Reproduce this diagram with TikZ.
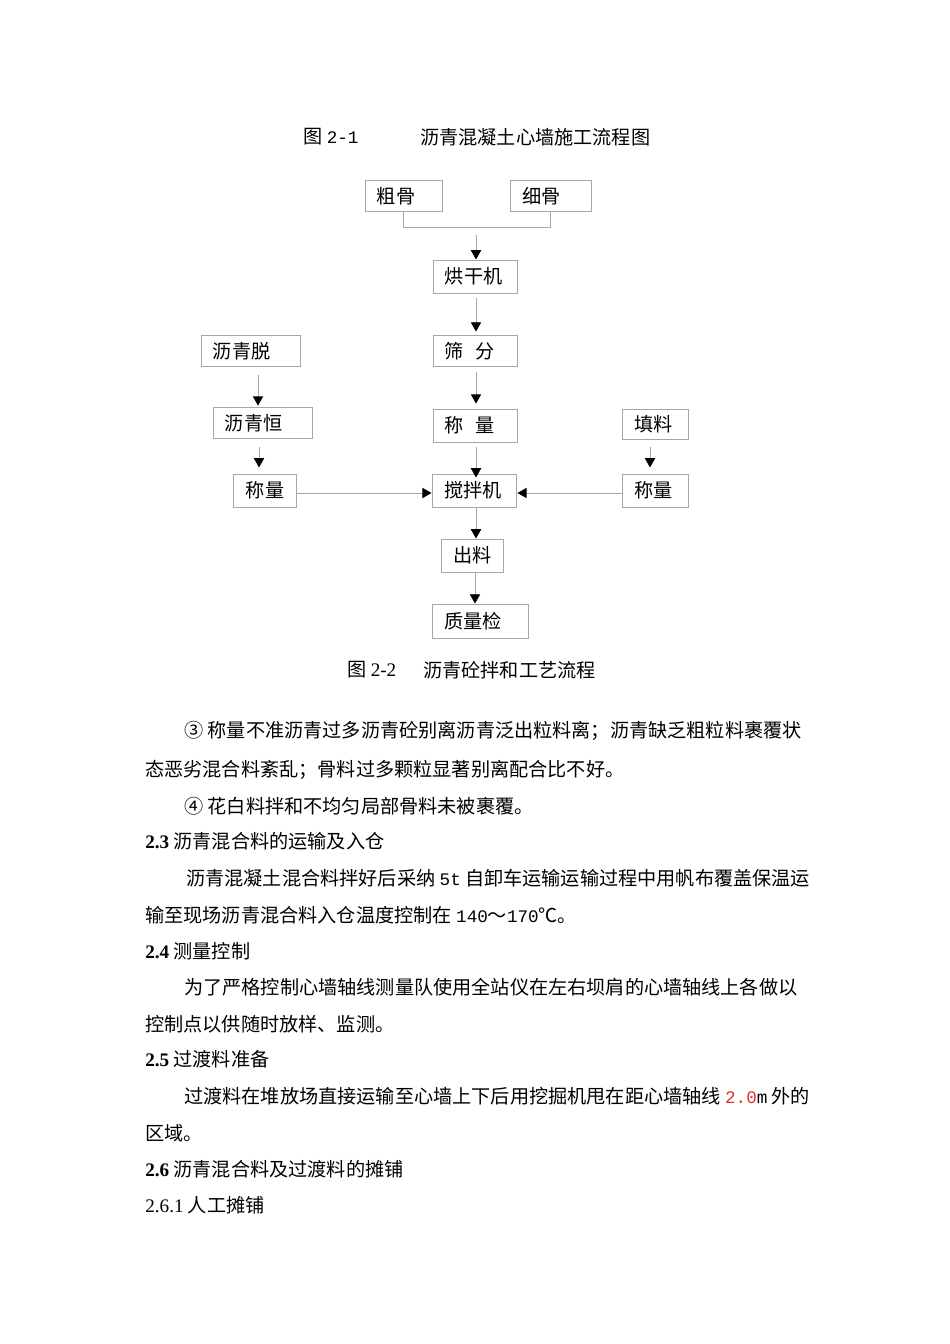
\documentclass[tikz,border=0pt]{standalone}
\usepackage{fontspec}
\setmainfont{Liberation Serif}
\newfontfamily\cjk{Noto Sans CJK SC}
\newfontfamily\latmono[Scale=0.92]{Liberation Mono}
\usetikzlibrary{arrows.meta}
\definecolor{linegray}{HTML}{A6A6A6}
\definecolor{numred}{HTML}{E0302E}
\newcommand\zhfont{\cjk\fontsize{12}{14}\selectfont}
\newcommand\hw[1]{{\latmono #1}}
\newcommand\hd[1]{{\rmfamily\bfseries #1}}
\begin{document}
\begin{tikzpicture}[x=0.6263pt, y=-0.6263pt,
  stage/.style={draw=linegray, line width=0.6pt, inner xsep=7.5pt, inner ysep=0pt, align=left, font=\zhfont},
  flow/.style={draw=linegray, line width=0.6pt, -{Triangle[width=6.4pt,length=5.8pt,color=black]}},
  link/.style={draw=linegray, line width=0.6pt},
  txt/.style={anchor=west, inner sep=0pt, font=\zhfont}]
\useasboundingbox (0,0) rectangle (950,1344);
% captions
\node[txt] (capAnum) at (303,137) {图 \hw{2-1}};
\node[txt] (capA) at (420,137) {沥青混凝土心墙施工流程图};
% flow chart
\node[stage, text width=33.2pt, minimum height=20pt] (coarse) at (403.5,196) {粗骨};
\node[stage, text width=35.7pt, minimum height=20pt] (fine) at (550.5,196) {细骨};
\node[stage, text width=37.6pt, minimum height=20.7pt] (dryer) at (475,276.5) {烘干机};
\node[stage, text width=37.6pt, minimum height=20pt] (screen) at (475,351) {筛\hspace{0.6em}分};
\node[stage, text width=47pt, minimum height=20pt] (melt) at (250.5,351) {沥青脱};
\node[stage, text width=47pt, minimum height=20pt] (heat) at (262.5,423) {沥青恒};
\node[stage, text width=37.6pt, minimum height=20.7pt] (weighA) at (475,425.5) {称\hspace{0.6em}量};
\node[stage, text width=26.9pt, minimum height=18.8pt] (filler) at (655.5,424) {填料};
\node[stage, text width=24pt, minimum height=20.7pt] (weighB) at (265,490.5) {称量};
\node[stage, text width=38.2pt, minimum height=20.7pt] (mixer) at (474.5,490.5) {搅拌机};
\node[stage, text width=26.9pt, minimum height=20.7pt] (weighC) at (655.5,490.5) {称量};
\node[stage, text width=24.4pt, minimum height=20.7pt] (output) at (472.5,555.5) {出料};
\node[stage, text width=45.7pt, minimum height=21.3pt] (check) at (480.5,621) {质量检};
\coordinate (join) at (476,235);
\draw[link] (coarse.south) -- ++(0,15) -| (fine.south);
\draw[flow] (join) -- (dryer.north -| join);
\draw[flow, shorten <=2.5pt, shorten >=1.9pt] (dryer.south -| 476,0) -- (screen.north -| 476,0);
\draw[flow, shorten <=5pt, shorten >=0.6pt] (melt.south -| 258,0) -- (heat.north -| 258,0);
\draw[flow, shorten <=3.1pt, shorten >=3.1pt] (screen.south -| 476,0) -- (weighA.north -| 476,0);
\draw[flow, shorten <=5pt, shorten >=3.8pt] (heat.south -| 259,0) -- (weighB.north -| 259,0);
\draw[flow, shorten <=5pt, shorten >=3.8pt] (filler.south -| 650,0) -- (weighC.north -| 650,0);
\draw[flow, shorten <=3.1pt, shorten >=-2.5pt] (weighA.south -| 476,0) -- (mixer.north -| 476,0);
\draw[flow] (weighB.east |- 0,493) -- (mixer.west |- 0,493);
\draw[flow] (weighC.west |- 0,493) -- (mixer.east |- 0,493);
\draw[flow] (mixer.south -| 476,0) -- (output.north -| 476,0);
\draw[flow] (output.south -| 475,0) -- (check.north -| 475,0);
\node[txt] (capBnum) at (347,670) {图 {\rmfamily 2-2}};
\node[txt] (capB) at (423,670) {沥青砼拌和工艺流程};
% body text
\node[txt] (lineA) at (184,731) {③ 称量不准沥青过多沥青砼别离沥青泛出粒料离；沥青缺乏粗粒料裹覆状};
\node[txt] (lineB) at (145,770) {态恶劣混合料紊乱；骨料过多颗粒显著别离配合比不好。};
\node[txt] (lineC) at (184,806) {④ 花白料拌和不均匀局部骨料未被裹覆。};
\node[txt] (lineD) at (145,841) {\hd{2.3} 沥青混合料的运输及入仓};
\node[txt] (lineE) at (186,878) {沥青混凝土混合料拌好后采纳 \hw{5t} 自卸车运输运输过程中用帆布覆盖保温运};
\node[txt] (lineF) at (145,915) {输至现场沥青混合料入仓温度控制在 \hw{140}～\hw{170}℃。};
\node[txt] (lineG) at (145,951) {\hd{2.4} 测量控制};
\node[txt] (lineH) at (184,987) {为了严格控制心墙轴线测量队使用全站仪在左右坝肩的心墙轴线上各做以};
\node[txt] (lineI) at (145,1024) {控制点以供随时放样、监测。};
\node[txt] (lineJ) at (145,1059) {\hd{2.5} 过渡料准备};
\node[txt] (lineK) at (184,1096) {过渡料在堆放场直接运输至心墙上下后用挖掘机甩在距心墙轴线 \hw{\textcolor{numred}{2.0}m} 外的};
\node[txt] (lineL) at (145,1133) {区域。};
\node[txt] (lineM) at (145,1169) {\hd{2.6} 沥青混合料及过渡料的摊铺};
\node[txt] (lineN) at (145,1205) {{\rmfamily 2.6.1} 人工摊铺};
\end{tikzpicture}
\end{document}
